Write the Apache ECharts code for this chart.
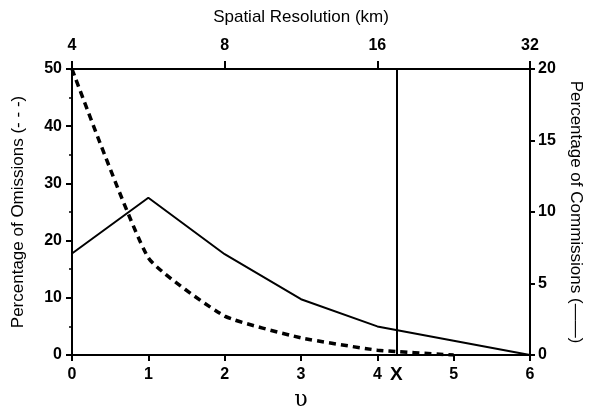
<!DOCTYPE html>
<html>
<head>
<meta charset="utf-8">
<script src="https://cdn.jsdelivr.net/npm/echarts@6/dist/echarts.min.js"></script>
<style>
html,body{margin:0;padding:0;background:#fff;}
#chart{width:590px;height:414px;}
</style>
</head>
<body>
<div id="chart"></div>
<script>
// Data
const nu = [0, 1, 2, 3, 4, 5, 6];
const omissions = [50, 17, 6.8, 3.0, 0.85, 0, null];      // left axis, dashed
const commissions = [7.1, 11.0, 7.05, 3.9, 2.0, 1.0, 0];  // right axis, solid
const markerNu = 4.25;                                     // vertical line "X"
const topTickPositions = [0, 2, 4, 6];
const topTickLabels = ['4', '8', '16', '32'];

const FONT = 'Liberation Sans, Arial, Helvetica, sans-serif';
const black = '#000';

const chart = echarts.init(document.getElementById('chart'), null, {renderer: 'canvas'});

const tickLabel = {color: black, fontFamily: FONT, fontWeight: 'bold', fontSize: 16};
const nameStyle = {color: black, fontFamily: FONT, fontSize: 17};

chart.setOption({
  animation: false,
  backgroundColor: '#fff',
  grid: {left: 72, right: 60, top: 69, bottom: 59, containLabel: false, outerBoundsMode: 'none'},
  xAxis: [
    {
      type: 'value', position: 'bottom', min: 0, max: 6, interval: 1,
      name: 'υ', nameLocation: 'middle', nameGap: 34,
      nameTextStyle: {color: black, fontFamily: 'DejaVu Serif, serif', fontSize: 22},
      axisLine: {show: true, onZero: false, lineStyle: {color: black, width: 2}},
      axisTick: {show: true, inside: false, length: 6, lineStyle: {color: black, width: 2}},
      axisLabel: Object.assign({margin: 12}, tickLabel),
      splitLine: {show: false}
    },
    {
      type: 'value', position: 'top', min: 0, max: 6, interval: 2,
      name: 'Spatial Resolution (km)', nameLocation: 'middle', nameGap: 43,
      nameTextStyle: nameStyle,
      axisLine: {show: true, onZero: false, lineStyle: {color: black, width: 2}},
      axisTick: {show: true, inside: false, length: 8, lineStyle: {color: black, width: 2}},
      axisLabel: Object.assign({
        margin: 15,
        formatter: function (v) {
          const i = topTickPositions.indexOf(v);
          return i >= 0 ? topTickLabels[i] : '';
        }
      }, tickLabel),
      splitLine: {show: false}
    }
  ],
  yAxis: [
    {
      type: 'value', position: 'left', min: 0, max: 50, interval: 10,
      name: 'Percentage of Omissions (- - -)', nameLocation: 'middle', nameGap: 45, nameRotate: 90,
      nameTextStyle: nameStyle,
      axisLine: {show: true, onZero: false, lineStyle: {color: black, width: 2}},
      axisTick: {show: true, inside: false, length: 6, lineStyle: {color: black, width: 2}},
      minorTick: {show: true, splitNumber: 2, length: 3, lineStyle: {color: black, width: 1.5}},
      axisLabel: Object.assign({margin: 10}, tickLabel),
      splitLine: {show: false}
    },
    {
      type: 'value', position: 'right', min: 0, max: 20, interval: 5,
      name: 'Percentage of Commissions (——)', nameLocation: 'middle', nameGap: 36, nameRotate: -90,
      nameTextStyle: nameStyle,
      axisLine: {show: true, onZero: false, lineStyle: {color: black, width: 2}},
      axisTick: {show: true, inside: false, length: 5, lineStyle: {color: black, width: 2}},
      axisLabel: Object.assign({margin: 8}, tickLabel),
      splitLine: {show: false}
    }
  ],
  series: [
    {
      name: 'Omissions', type: 'line', xAxisIndex: 0, yAxisIndex: 0,
      data: nu.map((x, i) => [x, omissions[i]]),
      showSymbol: false, smooth: 0.15, connectNulls: false,
      lineStyle: {color: black, width: 3.5, type: [7, 5]},
      z: 3,
      markLine: {
        silent: true, symbol: 'none', animation: false,
        lineStyle: {color: black, width: 2, type: 'solid'},
        label: {show: true, position: 'start', formatter: 'X', distance: 10,
                color: black, fontFamily: FONT, fontWeight: 'bold', fontSize: 19},
        data: [{xAxis: markerNu}]
      }
    },
    {
      name: 'Commissions', type: 'line', xAxisIndex: 0, yAxisIndex: 1,
      data: nu.map((x, i) => [x, commissions[i]]),
      showSymbol: false, smooth: false,
      lineStyle: {color: black, width: 2, type: 'solid'},
      z: 3
    }
  ]
});
</script>
</body>
</html>
